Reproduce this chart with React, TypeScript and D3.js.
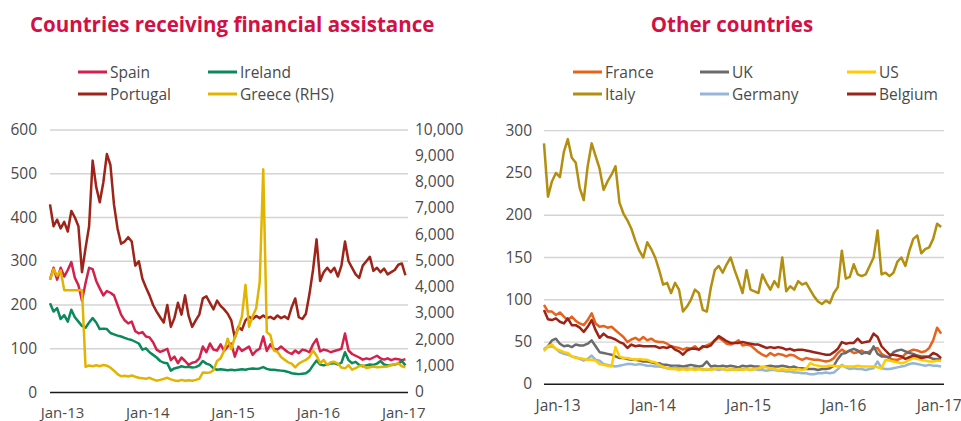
import React from 'react';
import * as d3 from 'd3';

const FONT = "'Open Sans', 'Noto Sans', sans-serif";
const TEXT = '#4a4a4a';
const TITLE = '#d40f45';
const GRID = '#d4d4d4';

// time axis (fractional years), half-monthly observations
const T0 = 2012.853;
const T1 = 2017.05;
const STEP = 1 / 24;
const xTickYears = [2013, 2014, 2015, 2016, 2017];
const xTickLabels = ['Jan-13', 'Jan-14', 'Jan-15', 'Jan-16', 'Jan-17'];

const leftTicks = [0, 100, 200, 300, 400, 500, 600];
const rhsTicks = [0, 1000, 2000, 3000, 4000, 5000, 6000, 7000, 8000, 9000, 10000];
const rightTicks = [0, 50, 100, 150, 200, 250, 300];

// ---- Countries receiving financial assistance ----
const spain = [
  258, 285, 258, 285, 265, 280, 298, 262, 245, 210,
  250, 285, 282, 255, 238, 222, 232, 228, 222, 200,
  178, 165, 158, 162, 140, 135, 138, 128, 126, 115,
  98, 93, 96, 100, 74, 82, 67, 80, 72, 63,
  68, 70, 78, 105, 92, 112, 98, 96, 110, 95,
  105, 112, 82, 105, 95, 100, 105, 86, 95, 100,
  128, 95, 110, 100, 98, 105, 98, 92, 88, 96,
  90, 98, 96, 92, 110, 122, 94, 98, 96, 92,
  95, 97, 100, 135, 96, 88, 84, 80, 75, 78,
  76, 80, 84, 78, 75, 78, 74, 77, 76, 74,
  76,
];
const portugal = [
  430, 380, 395, 375, 390, 368, 415, 400, 380, 275,
  330, 380, 530, 470, 435, 480, 545, 520, 430, 375,
  340, 345, 355, 345, 290, 300, 260, 240, 222, 200,
  185, 172, 160, 200, 150, 170, 205, 178, 222, 175,
  150, 165, 178, 215, 220, 205, 190, 210, 198, 190,
  180, 165, 125, 150, 143, 165, 173, 168, 175, 170,
  176, 170, 173, 168, 176, 170, 174, 168, 195, 215,
  172, 168, 180, 225, 280, 350, 255, 275, 285, 275,
  285, 265, 290, 345, 300, 285, 270, 262, 290, 300,
  310, 278, 285, 275, 283, 270, 275, 280, 292, 295,
  268,
];
const ireland = [
  204, 185, 193, 168, 177, 162, 189, 172, 162, 152,
  148, 160, 170, 160, 145, 146, 145, 136, 133, 130,
  128, 125, 122, 120, 116, 112, 98, 101, 92, 86,
  80, 72, 68, 67, 50, 55, 57, 60, 58, 59,
  57, 58, 62, 72, 66, 63, 55, 52, 53, 52,
  51, 52, 51, 52, 53, 52, 54, 55, 54, 55,
  58, 54, 52, 52, 51, 50, 49, 47, 44, 43,
  42, 43, 44, 50, 62, 73, 64, 62, 64, 66,
  67, 64, 68, 92, 74, 67, 70, 63, 60, 62,
  64, 63, 66, 72, 64, 62, 63, 64, 66, 72,
  62,
];
const greece = [
  4300, 4700, 4450, 4650, 3900, 3900, 3900, 3900, 3900, 3900,
  980, 1030, 1000, 1040, 1000, 1050, 1020, 950, 830, 700,
  620, 640, 610, 650, 600, 560, 540, 520, 560, 500,
  450, 480, 520, 560, 500, 460, 440, 480, 450, 470,
  450, 480, 520, 760, 750, 760, 850, 1200, 1300, 1600,
  2050, 1650, 2100, 2450, 2900, 4100, 2500, 2900, 3200, 4200,
  8500, 2300, 2190, 1600, 1550, 1350, 1250, 1150, 1100, 960,
  1100, 1180, 1240, 1350, 1600, 1400, 1120, 1240, 1050, 1150,
  1170, 1100, 950, 920, 1040, 870, 930, 1000, 1040, 930,
  960, 990, 960, 970, 985, 990, 1040, 1080, 1110, 1000,
  960,
];

// ---- Other countries ----
const france = [
  94, 86, 86, 82, 85, 80, 76, 80, 75, 72,
  70, 76, 84, 72, 68, 69, 67, 68, 64, 60,
  56, 50, 53, 55, 52, 56, 52, 54, 51, 50,
  50, 48, 45, 44, 43, 41, 43, 42, 45, 41,
  44, 46, 48, 52, 55, 52, 48, 47, 49, 52,
  46, 47, 46, 42, 38, 35, 33, 37, 34, 36,
  35, 33, 35, 34, 31, 29, 31, 30, 29, 29,
  28, 27, 28, 31, 37, 41, 38, 40, 37, 38,
  40, 37, 39, 42, 43, 36, 33, 31, 29, 29,
  31, 36, 39, 41, 40, 38, 39, 43, 52, 67,
  60,
];
const uk = [
  41, 45, 52, 54, 48, 45, 46, 44, 47, 46,
  46, 48, 52, 45, 38, 37, 36, 35, 33, 31,
  31, 30, 29, 29, 28, 27, 27, 26, 25, 25,
  23, 23, 22, 22, 22, 21, 22, 23, 22, 21,
  22, 27, 21, 22, 21, 22, 21, 22, 21, 20,
  22, 21, 22, 21, 21, 20, 21, 22, 21, 21,
  22, 21, 20, 21, 19, 19, 18, 18, 18, 17,
  18, 18, 19, 22, 30, 36, 37, 40, 42, 40,
  36, 38, 36, 45, 36, 33, 33, 32, 38, 40,
  41, 39, 37, 36, 34, 33, 33, 32, 30, 30,
  29,
];
const us = [
  39, 45, 47, 42, 40, 38, 37, 33, 31, 31,
  30, 29, 29, 28, 24, 23, 22, 21, 44, 33,
  31, 31, 30, 29, 30, 29, 29, 27, 26, 23,
  21, 19, 18, 18, 17, 18, 17, 18, 17, 18,
  17, 18, 17, 18, 19, 18, 17, 18, 17, 18,
  17, 18, 17, 18, 19, 21, 20, 19, 18, 17,
  18, 17, 18, 17, 18, 17, 18, 25, 23, 22,
  21, 21, 22, 22, 21, 22, 21, 21, 21, 22,
  21, 21, 21, 21, 20, 19, 29, 28, 27, 26,
  25, 26, 29, 31, 30, 29, 28, 27, 27, 28,
  28,
];
const italy = [
  285, 222, 240, 250, 245, 275, 290, 268, 262, 232,
  218, 258, 285, 270, 255, 230, 240, 248, 258, 215,
  202, 194, 184, 170, 158, 150, 168, 160, 150, 135,
  118, 120, 108, 120, 112, 86, 92, 100, 112, 108,
  88, 86, 114, 135, 140, 132, 142, 150, 135, 122,
  108, 135, 112, 110, 108, 130, 120, 112, 122, 115,
  150, 110, 116, 112, 122, 118, 120, 112, 104, 98,
  95, 99, 96, 108, 115, 158, 125, 127, 142, 130,
  128, 130, 140, 150, 182, 130, 132, 128, 132, 145,
  150, 140, 158, 172, 176, 155, 160, 162, 172, 190,
  186,
];
const germany = [
  41, 44, 45, 42, 38, 36, 35, 33, 32, 30,
  28, 30, 34, 29, 28, 24, 23, 22, 21, 22,
  23, 24, 24, 23, 24, 23, 22, 22, 21, 21,
  20, 19, 19, 20, 19, 18, 19, 18, 19, 18,
  18, 17, 18, 18, 17, 18, 17, 17, 18, 17,
  18, 18, 17, 18, 17, 17, 16, 17, 17, 16,
  16, 15, 15, 14, 14, 13, 13, 12, 12, 13,
  13, 14, 13, 14, 18, 23, 20, 18, 19, 18,
  18, 17, 18, 19, 27, 19, 18, 18, 19, 20,
  21, 22, 24, 25, 24, 23, 22, 23, 22, 22,
  21,
];
const belgium = [
  88, 77, 76, 78, 74, 72, 78, 70, 70, 67,
  62, 68, 76, 64, 55, 60, 56, 55, 53, 50,
  48, 43, 47, 45, 46, 45, 45, 45, 45, 43,
  44, 43, 45, 41, 39, 35, 40, 42, 42, 41,
  45, 44, 46, 52, 57, 54, 51, 49, 49, 49,
  50, 49, 48, 47, 47, 45, 43, 44, 43, 44,
  43, 41, 42, 40, 41, 41, 40, 39, 38, 37,
  36, 35, 35, 38, 42, 50, 48, 49, 49, 54,
  49, 50, 51, 60, 56, 45, 40, 35, 35, 34,
  33, 30, 32, 34, 33, 31, 32, 33, 37, 35,
  31,
];

const leftSeries = [
  { name: 'Spain', values: spain, color: '#d4204c', axis: 'L' },
  { name: 'Ireland', values: ireland, color: '#0a8a5a', axis: 'L' },
  { name: 'Portugal', values: portugal, color: '#9e2318', axis: 'L' },
  { name: 'Greece (RHS)', values: greece, color: '#e2b400', axis: 'R' },
];
const leftLegend = [
  { name: 'Spain', color: '#d4204c', col: 0, row: 0 },
  { name: 'Ireland', color: '#0a8a5a', col: 1, row: 0 },
  { name: 'Portugal', color: '#9e2318', col: 0, row: 1 },
  { name: 'Greece (RHS)', color: '#e2b400', col: 1, row: 1 },
];

const rightSeries = [
  { name: 'France', values: france, color: '#e8621c' },
  { name: 'UK', values: uk, color: '#6b6b6b' },
  { name: 'Germany', values: germany, color: '#93b6da' },
  { name: 'US', values: us, color: '#ffcc00' },
  { name: 'Italy', values: italy, color: '#b38e0f' },
  { name: 'Belgium', values: belgium, color: '#9b2317' },
];
const rightLegend = [
  { name: 'France', color: '#e8621c', col: 0, row: 0 },
  { name: 'UK', color: '#6b6b6b', col: 1, row: 0 },
  { name: 'US', color: '#ffcc00', col: 2, row: 0 },
  { name: 'Italy', color: '#b38e0f', col: 0, row: 1 },
  { name: 'Germany', color: '#93b6da', col: 1, row: 1 },
  { name: 'Belgium', color: '#9b2317', col: 2, row: 1 },
];

const dates = d3.range(spain.length).map((i) => T0 + i * STEP);
const fmt = d3.format(',');

export default function App() {
  // left panel
  const xL = d3.scaleLinear().domain([T0, T1]).range([50, 408]);
  const yL = d3.scaleLinear().domain([0, 600]).range([392.5, 130]);
  const yR = d3.scaleLinear().domain([0, 10000]).range([392.5, 130]);
  // right panel
  const xR = d3.scaleLinear().domain([T0, T1]).range([544, 944]);
  const yO = d3.scaleLinear().domain([0, 300]).range([384.3, 130.7]);

  const lineFor = (xs: any, ys: any) =>
    d3
      .line<number>()
      .x((_, i) => xs(dates[i]))
      .y((d) => ys(d));

  const fs = 15.5;
  const leftLegX = [78, 208];
  const rightLegX = [573, 700, 847];
  const legY = [72, 94];

  return (
    <svg
      width={961}
      height={421}
      style={{ position: 'absolute', left: 0, top: 0, background: '#fff' }}
      fontFamily={FONT}
    >
      {/* Titles */}
      <text x={30} y={32} fontSize={20.5} fontWeight={700} fill={TITLE}>
        Countries receiving financial assistance
      </text>
      <text x={732} y={32} fontSize={20.5} fontWeight={700} fill={TITLE} textAnchor="middle">
        Other countries
      </text>

      {/* Left legend */}
      {leftLegend.map((d) => (
        <g key={d.name}>
          <line
            x1={leftLegX[d.col]}
            x2={leftLegX[d.col] + 29}
            y1={legY[d.row]}
            y2={legY[d.row]}
            stroke={d.color}
            strokeWidth={3}
          />
          <text x={leftLegX[d.col] + 32} y={legY[d.row] + 5.5} fontSize={fs} fill={TEXT}>
            {d.name}
          </text>
        </g>
      ))}
      {/* Right legend */}
      {rightLegend.map((d) => (
        <g key={d.name}>
          <line
            x1={rightLegX[d.col]}
            x2={rightLegX[d.col] + 29}
            y1={legY[d.row]}
            y2={legY[d.row]}
            stroke={d.color}
            strokeWidth={3}
          />
          <text x={rightLegX[d.col] + 32} y={legY[d.row] + 5.5} fontSize={fs} fill={TEXT}>
            {d.name}
          </text>
        </g>
      ))}

      {/* Left panel grid + axes */}
      {leftTicks.map((t) => (
        <g key={'lg' + t}>
          {t > 0 && (
            <line x1={50} x2={408} y1={yL(t)} y2={yL(t)} stroke={GRID} strokeWidth={1.3} />
          )}
          <text x={37} y={yL(t) + 5} fontSize={fs} fill={TEXT} textAnchor="end">
            {t}
          </text>
        </g>
      ))}
      {rhsTicks.map((t) => (
        <text key={'rt' + t} x={415} y={yR(t) + 4.5} fontSize={fs} fill={TEXT}>
          {fmt(t)}
        </text>
      ))}
      {xTickYears.map((yr, i) => (
        <text key={'lx' + yr} x={xL(yr)} y={417.5} fontSize={15} fill={TEXT} textAnchor="middle">
          {xTickLabels[i]}
        </text>
      ))}

      {/* Left series */}
      {leftSeries.map((s) => (
        <path
          key={s.name}
          d={lineFor(xL, s.axis === 'L' ? yL : yR)(s.values) || ''}
          fill="none"
          stroke={s.color}
          strokeWidth={2.5}
          strokeLinejoin="round"
        />
      ))}
      <line x1={50} x2={408} y1={yL(0)} y2={yL(0)} stroke="#1a1a1a" strokeWidth={1.4} />

      {/* Right panel grid + axes */}
      {rightTicks.map((t) => (
        <g key={'rg' + t}>
          {t > 0 && (
            <line x1={544} x2={944} y1={yO(t)} y2={yO(t)} stroke={GRID} strokeWidth={1.3} />
          )}
          <text x={532} y={yO(t) + 5} fontSize={fs} fill={TEXT} textAnchor="end">
            {t}
          </text>
        </g>
      ))}
      {xTickYears.map((yr, i) => (
        <text key={'rx' + yr} x={xR(yr)} y={411} fontSize={fs} fill={TEXT} textAnchor="middle">
          {xTickLabels[i]}
        </text>
      ))}
      {rightSeries.map((s) => (
        <path
          key={s.name}
          d={lineFor(xR, yO)(s.values) || ''}
          fill="none"
          stroke={s.color}
          strokeWidth={2.5}
          strokeLinejoin="round"
        />
      ))}
      <line x1={544} x2={944} y1={yO(0)} y2={yO(0)} stroke="#1a1a1a" strokeWidth={1.4} />
    </svg>
  );
}
